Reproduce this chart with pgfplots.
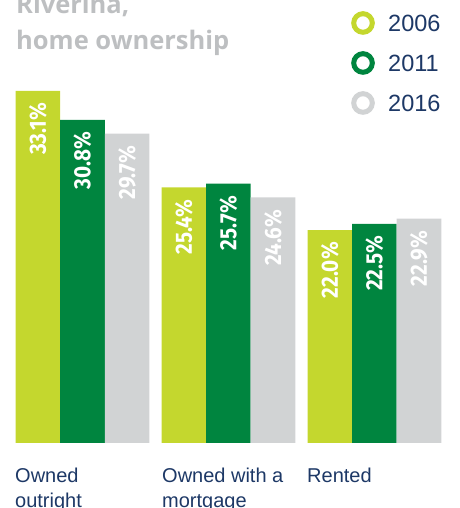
\documentclass[border=0pt]{standalone}
\usepackage{pgfplots}
\pgfplotsset{compat=1.18}
\usepackage{fontspec}
\setmainfont{Liberation Sans}
\newfontfamily\titlefont{Open Sans}
\newfontfamily\valfont{Fira Sans}

\definecolor{lime}{HTML}{C4D72E}
\definecolor{dgreen}{HTML}{00853F}
\definecolor{lgray}{HTML}{D1D3D4}
\definecolor{navy}{HTML}{1D3866}
\definecolor{tgray}{HTML}{BDBFC1}

\begin{document}
\begin{tikzpicture}
\path[use as bounding box] (0,0) rectangle (459pt,508pt);
\clip (0,0) rectangle (459pt,508pt);
\begin{axis}[
    at={(0,65pt)}, anchor=south west,
    scale only axis,
    width=459pt, height=443pt,
    xmin=-0.565, xmax=2.579,
    ymin=5, ymax=40.36,
    axis lines=none,
    clip mode=individual,
    bar width=0.305,
    nodes near coords={\valfont\bfseries\fontsize{23.5}{24}\selectfont\scalebox{0.88}[1]{\pgfmathprintnumber[fixed,fixed zerofill,precision=1,assume math mode=true]{\pgfplotspointmeta}\%}},
    every node near coord/.style={rotate=90, anchor=east, inner xsep=12pt, inner ysep=0pt, text=white},
]
% groups at 0, 1, 2; series offset by one bar width
\addplot[ybar, bar shift=0, fill=lime, draw=none] coordinates {(-0.305,33.1) (0.695,25.4) (1.695,22.0)};
\addplot[ybar, bar shift=0, fill=dgreen, draw=none] coordinates {(0,30.8) (1,25.7) (2,22.5)};
\addplot[ybar, bar shift=0, fill=lgray, draw=none] coordinates {(0.305,29.7) (1.305,24.6) (2.305,22.9)};
\end{axis}

% title
\node[anchor=base west, inner sep=0, text=tgray, font=\titlefont\bfseries\fontsize{25.5}{30}\selectfont] at (16pt,494pt) {Riverina,};
\node[anchor=base west, inner sep=0, text=tgray, font=\titlefont\bfseries\fontsize{25.5}{30}\selectfont] at (16pt,458pt) {home ownership};

% legend
\draw[lime, line width=5pt] (363pt,485pt) circle (9.3pt);
\draw[dgreen, line width=5pt] (363pt,445pt) circle (9.3pt);
\draw[lgray, line width=5pt] (363pt,405pt) circle (9.3pt);
\node[anchor=base west, inner sep=0, text=navy, font=\fontsize{23.5}{28}\selectfont] at (388pt,476pt) {2006};
\node[anchor=base west, inner sep=0, text=navy, font=\fontsize{23.5}{28}\selectfont] at (388pt,436pt) {2011};
\node[anchor=base west, inner sep=0, text=navy, font=\fontsize{23.5}{28}\selectfont] at (388pt,396pt) {2016};

% category labels
\node[anchor=base west, inner sep=0, text=navy, font=\fontsize{20}{24}\selectfont] at (15pt,25pt) {Owned};
\node[anchor=base west, inner sep=0, text=navy, font=\fontsize{20}{24}\selectfont] at (15pt,1pt) {outright};
\node[anchor=base west, inner sep=0, text=navy, font=\fontsize{20}{24}\selectfont] at (162pt,25pt) {Owned with a};
\node[anchor=base west, inner sep=0, text=navy, font=\fontsize{20}{24}\selectfont] at (162pt,1pt) {mortgage};
\node[anchor=base west, inner sep=0, text=navy, font=\fontsize{20}{24}\selectfont] at (307pt,25pt) {Rented};
\end{tikzpicture}
\end{document}
